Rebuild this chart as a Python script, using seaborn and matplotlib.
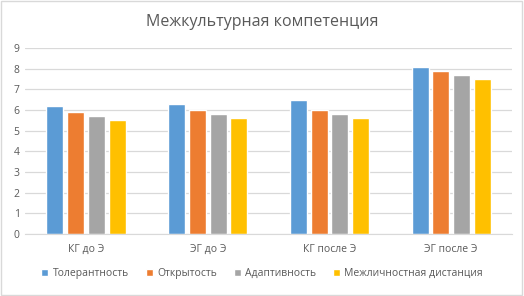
import matplotlib
matplotlib.use("Agg")
import matplotlib.pyplot as plt
import seaborn as sns
import pandas as pd

# data
groups = ["КГ до Э", "ЭГ до Э", "КГ после Э", "ЭГ после Э"]
series = ["Толерантность", "Открытость", "Адаптивность", "Межличностная дистанция"]
tolerance = [6.2, 6.3, 6.5, 8.1]
openness = [5.9, 6.0, 6.0, 7.9]
adaptivity = [5.7, 5.8, 5.8, 7.7]
distance = [5.5, 5.6, 5.6, 7.5]
colors = ["#5B9BD5", "#ED7D31", "#A5A5A5", "#FFC000"]

df = pd.DataFrame({
    "group": groups * 4,
    "series": [s for s in series for _ in groups],
    "value": tolerance + openness + adaptivity + distance,
})

sns.set_style("white")
plt.rcParams["font.family"] = ["Open Sans", "DejaVu Sans"]
text_color = "#595959"

fig = plt.figure(figsize=(5.24, 2.96), dpi=100)
ax = fig.add_axes([0.048, 0.209, 0.929, 0.629])

sns.barplot(data=df, x="group", y="value", hue="series", order=groups,
            hue_order=series, palette=colors, width=0.68, gap=0.18,
            saturation=1, ax=ax, legend=True)

ax.set_ylim(0, 9)
ax.set_yticks(range(0, 10))
ax.set_xlim(-0.5, 3.5)
ax.yaxis.grid(True, color="#D9D9D9", linewidth=0.9)
ax.set_axisbelow(True)
for side in ["left", "right", "top"]:
    ax.spines[side].set_visible(False)
ax.spines["bottom"].set_color("#D9D9D9")
ax.tick_params(axis="both", length=0, labelsize=7.5, colors=text_color, pad=4)
ax.tick_params(axis="x", pad=7)
ax.set_xlabel("")
ax.set_ylabel("")

fig.text(0.5, 0.925, "Межкультурная компетенция", ha="center", va="center",
         fontsize=11.5, color=text_color)

handles, labels = ax.get_legend_handles_labels()
ax.legend_.remove()
fig.legend(handles, labels, loc="center", bbox_to_anchor=(0.5, 0.075), ncol=4,
           frameon=False, fontsize=7.5, labelcolor=text_color,
           handlelength=0.7, handleheight=0.7, handletextpad=0.4,
           columnspacing=1.6)

fig.patches.append(plt.Rectangle((0.002, 0.003), 0.995, 0.994, transform=fig.transFigure,
                                 fill=False, edgecolor="#D9D9D9", linewidth=1))

fig.savefig("out.png", dpi=100, facecolor="white")
